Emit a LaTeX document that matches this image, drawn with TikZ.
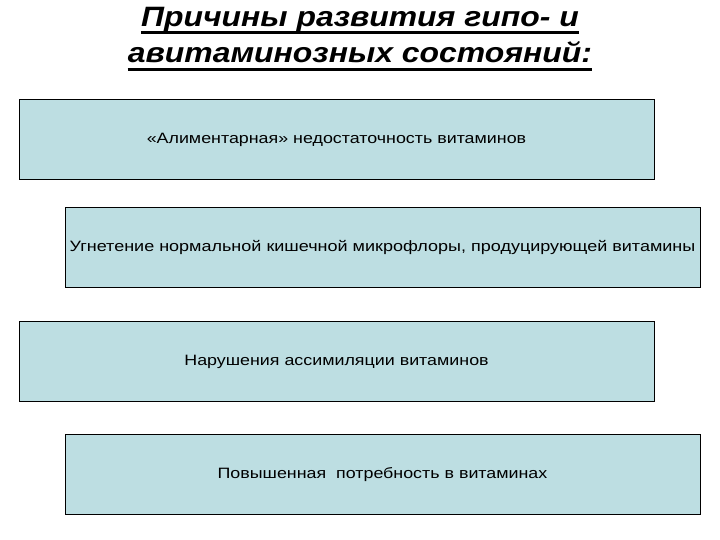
\documentclass[tikz,border=0pt]{standalone}
\usepackage{fontspec}
\setmainfont{Liberation Sans}
\definecolor{boxfill}{RGB}{189,222,226}
\newcommand{\wideText}[2]{\scalebox{#1}[1]{#2}}
\tikzset{
  cause/.style={draw=black, line width=0.9pt, fill=boxfill, minimum width=635pt,
    minimum height=80pt, inner sep=0pt, text height=9pt, text depth=0pt,
    font=\fontsize{15}{18}\selectfont},
  heading/.style={font=\fontsize{28}{32}\bfseries\itshape\selectfont, inner sep=0pt, anchor=base},
  rule/.style={line width=3pt}
}
\begin{document}
\begin{tikzpicture}[x=1pt,y=-1pt]
            \useasboundingbox (0,0) rectangle (720,540);%

            % Title lines
            \node (title1) [heading] at (360,27) {\wideText{1.14}{Причины развития гипо- и}};%
            \node (title2) [heading] at (360,63) {\wideText{1.14}{авитаминозных состояний:}};%

            % Underlining the title
            \draw [rule] (title1.west |- 0,32.5) -- (title1.east |- 0,32.5);%
            \draw [rule] (title2.west |- 0,69.5) -- (title2.east |- 0,69.5);%

            % Box 1
            \node (alim) [cause] at (336.5,139) {\wideText{1.19}{«Алиментарная» недостаточность витаминов}};%

            % Box 2
            \node (flora) [cause] at (382.5,247) {\wideText{1.2}{Угнетение нормальной кишечной микрофлоры, продуцирующей витамины}};%

            % Box 3
            \node (assim) [cause] at (336.5,361) {\wideText{1.19}{Нарушения ассимиляции витаминов}};%

            % Box 4
            \node (need) [cause] at (382.5,474) {\wideText{1.19}{Повышенная\ \ потребность в витаминах}};%
\end{tikzpicture}
\end{document}
